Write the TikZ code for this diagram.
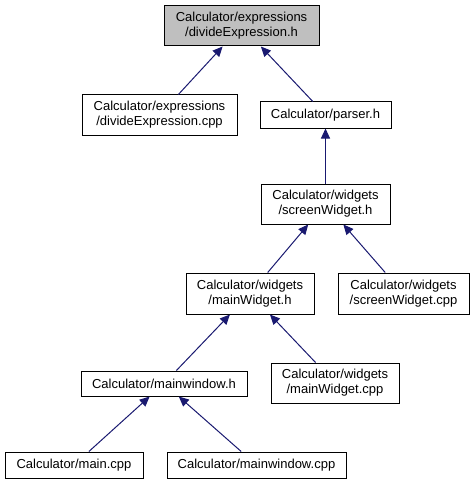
\documentclass[tikz,border=0pt]{standalone}
\usepackage{fontspec}
\setmainfont{Liberation Sans}
\usetikzlibrary{arrows.meta}
\definecolor{edgeblue}{HTML}{191970}
\definecolor{rootgray}{HTML}{BFBFBF}
\begin{document}
\begin{tikzpicture}[x=1pt, y=-1pt,
		box/.style={draw=black, line width=1pt, fill=white, inner sep=0pt, align=center,
			font=\fontsize{13}{15}\selectfont},
		dep/.style={draw=edgeblue, line width=1pt, -{Triangle[length=10pt, width=9pt]}}]
	\useasboundingbox (0,0) rectangle (474,484);

	% Nodes of the include graph
	\node[box, fill=rootgray, minimum width=155pt, minimum height=40pt] (root) at (241.5,26) {Calculator/expressions\\/divideExpression.h};
	\node[box, minimum width=155pt, minimum height=40pt] (divcpp) at (159.5,115) {Calculator/expressions\\/divideExpression.cpp};
	\node[box, minimum width=131pt, minimum height=26pt] (parser) at (325.5,115) {Calculator/parser.h};
	\node[box, minimum width=129pt, minimum height=40pt] (screenh) at (325.5,204) {Calculator/widgets\\/screenWidget.h};
	\node[box, minimum width=128pt, minimum height=41pt] (mainwh) at (250,293.5) {Calculator/widgets\\/mainWidget.h};
	\node[box, minimum width=131pt, minimum height=41pt] (screencpp) at (403.5,293.5) {Calculator/widgets\\/screenWidget.cpp};
	\node[box, minimum width=166pt, minimum height=25pt] (mwinh) at (164,383.5) {Calculator/mainwindow.h};
	\node[box, minimum width=128pt, minimum height=40pt] (mainwcpp) at (335,383) {Calculator/widgets\\/mainWidget.cpp};
	\node[box, minimum width=138pt, minimum height=26pt] (maincpp) at (74,465) {Calculator/main.cpp};
	\node[box, minimum width=179pt, minimum height=26pt] (mwincpp) at (256.5,465) {Calculator/mainwindow.cpp};

	% Edges, pointing to the included file
	\draw[dep] (divcpp) -- (root);
	\draw[dep] (parser) -- (root);
	\draw[dep] (screenh) -- (parser);
	\draw[dep] (mainwh) -- (screenh);
	\draw[dep] (screencpp) -- (screenh);
	\draw[dep] (mwinh) -- (mainwh);
	\draw[dep] (mainwcpp) -- (mainwh);
	\draw[dep] (maincpp) -- (mwinh);
	\draw[dep] (mwincpp) -- (mwinh);

\end{tikzpicture}
\end{document}
